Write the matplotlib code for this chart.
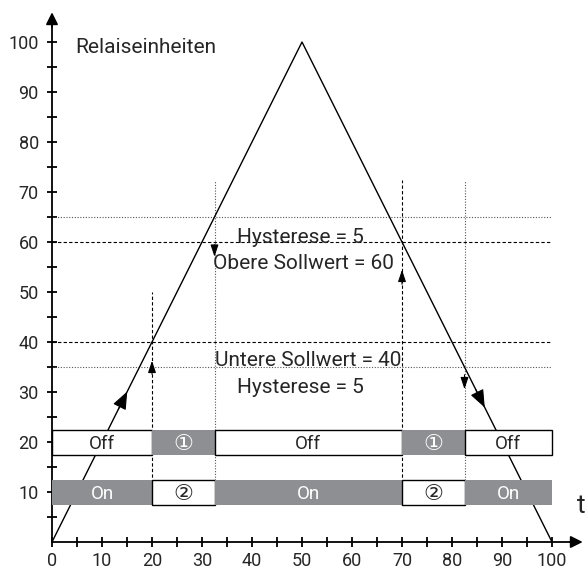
import matplotlib
matplotlib.use("Agg")
import matplotlib.pyplot as plt

# triangle signal
t = [0, 50, 100]
value = [0, 100, 0]

# setpoints / hysteresis
upper_set = 60
lower_set = 40
hyst = 5

# switching times and line tops
switch_x = [20, 32.5, 70, 82.5]
switch_top = [50, 72.5, 72.5, 72.5]
switch_style = ['dashed', 'dotted', 'dashed', 'dotted']

# relay rows
seg_start = [0, 20, 32.5, 70, 82.5]
seg_end = [20, 32.5, 70, 82.5, 100]
row1_labels = ['Off', '\u2460', 'Off', '\u2460', 'Off']
row1_gray = [False, True, False, True, False]
row2_labels = ['On', '\u2461', 'On', '\u2461', 'On']
row2_gray = [True, False, True, False, True]
row_y = [20, 10]

gray = '#8e8f93'
txt = '#262626'
plt.rcParams['font.family'] = ['Roboto', 'DejaVu Sans']

fig = plt.figure(figsize=(5.87, 5.73), dpi=100)
ax = fig.add_axes([0, 0, 1, 1])
ax.set_xlim(-10.4, 107)
ax.set_ylim(-6.2, 108.4)

# axes through origin
for s in ['top', 'right']:
    ax.spines[s].set_visible(False)
ax.spines['left'].set_position(('data', 0))
ax.spines['bottom'].set_position(('data', 0))
ax.spines['left'].set_bounds(0, 104)
ax.spines['bottom'].set_bounds(0, 104)
ax.spines['left'].set_linewidth(1.3)
ax.spines['bottom'].set_linewidth(1.3)
ax.annotate('', xy=(106.7, 0), xytext=(103, 0),
            arrowprops=dict(arrowstyle='-|>', color='black', lw=1.3, mutation_scale=18))
ax.annotate('', xy=(0, 106.5), xytext=(0, 102.5),
            arrowprops=dict(arrowstyle='-|>', color='black', lw=1.3, mutation_scale=18))

ax.set_xticks(range(0, 101, 10))
ax.set_xticks(range(5, 101, 10), minor=True)
ax.set_yticks(range(10, 101, 10))
ax.set_yticks(range(5, 101, 10), minor=True)
ax.tick_params(which='both', direction='inout', length=7, width=1.3, labelsize=13,
               labelcolor=txt)
ax.tick_params(axis='x', pad=4)
ax.tick_params(axis='y', pad=6)

# setpoint lines
for y, ls, c in [(upper_set + hyst, (0, (1, 1.5)), '#555555'),
                 (upper_set, (0, (3, 2)), 'black'),
                 (lower_set, (0, (3, 2)), 'black'),
                 (lower_set - hyst, (0, (1, 1.5)), '#555555')]:
    ax.plot([0, 100], [y, y], ls=ls, color=c, lw=0.8)

# switching verticals
for x, top, st in zip(switch_x, switch_top, switch_style):
    if st == 'dashed':
        ax.plot([x, x], [7.5, top], ls=(0, (3, 2)), color='black', lw=0.8)
    else:
        ax.plot([x, x], [7.5, top], ls=(0, (1, 1.5)), color='#555555', lw=0.8)

# small arrows on the verticals
for x, y0, y1 in [(20, 33, 36.8), (32.5, 60, 56.5), (70, 51, 55), (82.5, 34, 30)]:
    ax.annotate('', xy=(x, y1), xytext=(x, y0),
                arrowprops=dict(arrowstyle='-|>,head_length=0.6,head_width=0.2',
                                color='black', lw=0.8, mutation_scale=12))

# triangle signal
ax.plot(t, value, color='black', lw=1)
ax.annotate('', xy=(15.3, 30.6), xytext=(13, 26),
            arrowprops=dict(arrowstyle='-|>,head_length=0.5,head_width=0.2',
                            color='black', lw=0.8, mutation_scale=22))
ax.annotate('', xy=(86.8, 26.4), xytext=(84.5, 31),
            arrowprops=dict(arrowstyle='-|>,head_length=0.5,head_width=0.2',
                            color='black', lw=0.8, mutation_scale=22))

# relay rows
for y, labels, grays in [(row_y[0], row1_labels, row1_gray), (row_y[1], row2_labels, row2_gray)]:
    for a, b, lab, g in zip(seg_start, seg_end, labels, grays):
        if g:
            ax.barh(y, b - a, left=a, height=5, color=gray, edgecolor='none', zorder=3)
            tc = 'white'
        else:
            ax.barh(y, b - a, left=a, height=5, color='white', edgecolor='black', lw=1, zorder=3)
            tc = txt
        if lab in ('\u2460', '\u2461'):
            ax.text((a + b) / 2, y, lab, ha='center', va='center_baseline', color=tc,
                    fontsize=16, family=['DejaVu Sans'], zorder=4)
        else:
            ax.text((a + b) / 2, y, lab, ha='center', va='center_baseline', color=tc,
                    fontsize=13.5, zorder=4)

# labels
ax.text(4.6, 97.8, 'Relaiseinheiten', fontsize=15, va='baseline', ha='left', color=txt)
ax.text(49.7, 59.8, 'Hysterese = 5', fontsize=15, ha='center', va='baseline', color=txt)
ax.text(50.3, 54.6, 'Obere Sollwert = 60', fontsize=15, ha='center', va='baseline', color=txt)
ax.text(51.2, 35.2, 'Untere Sollwert = 40', fontsize=15, ha='center', va='baseline', color=txt)
ax.text(49.7, 29.8, 'Hysterese = 5', fontsize=15, ha='center', va='baseline', color=txt)
ax.text(105.8, 7.2, 't', fontsize=19, ha='center', va='center', color=txt)

fig.savefig('out.png', dpi=100)
